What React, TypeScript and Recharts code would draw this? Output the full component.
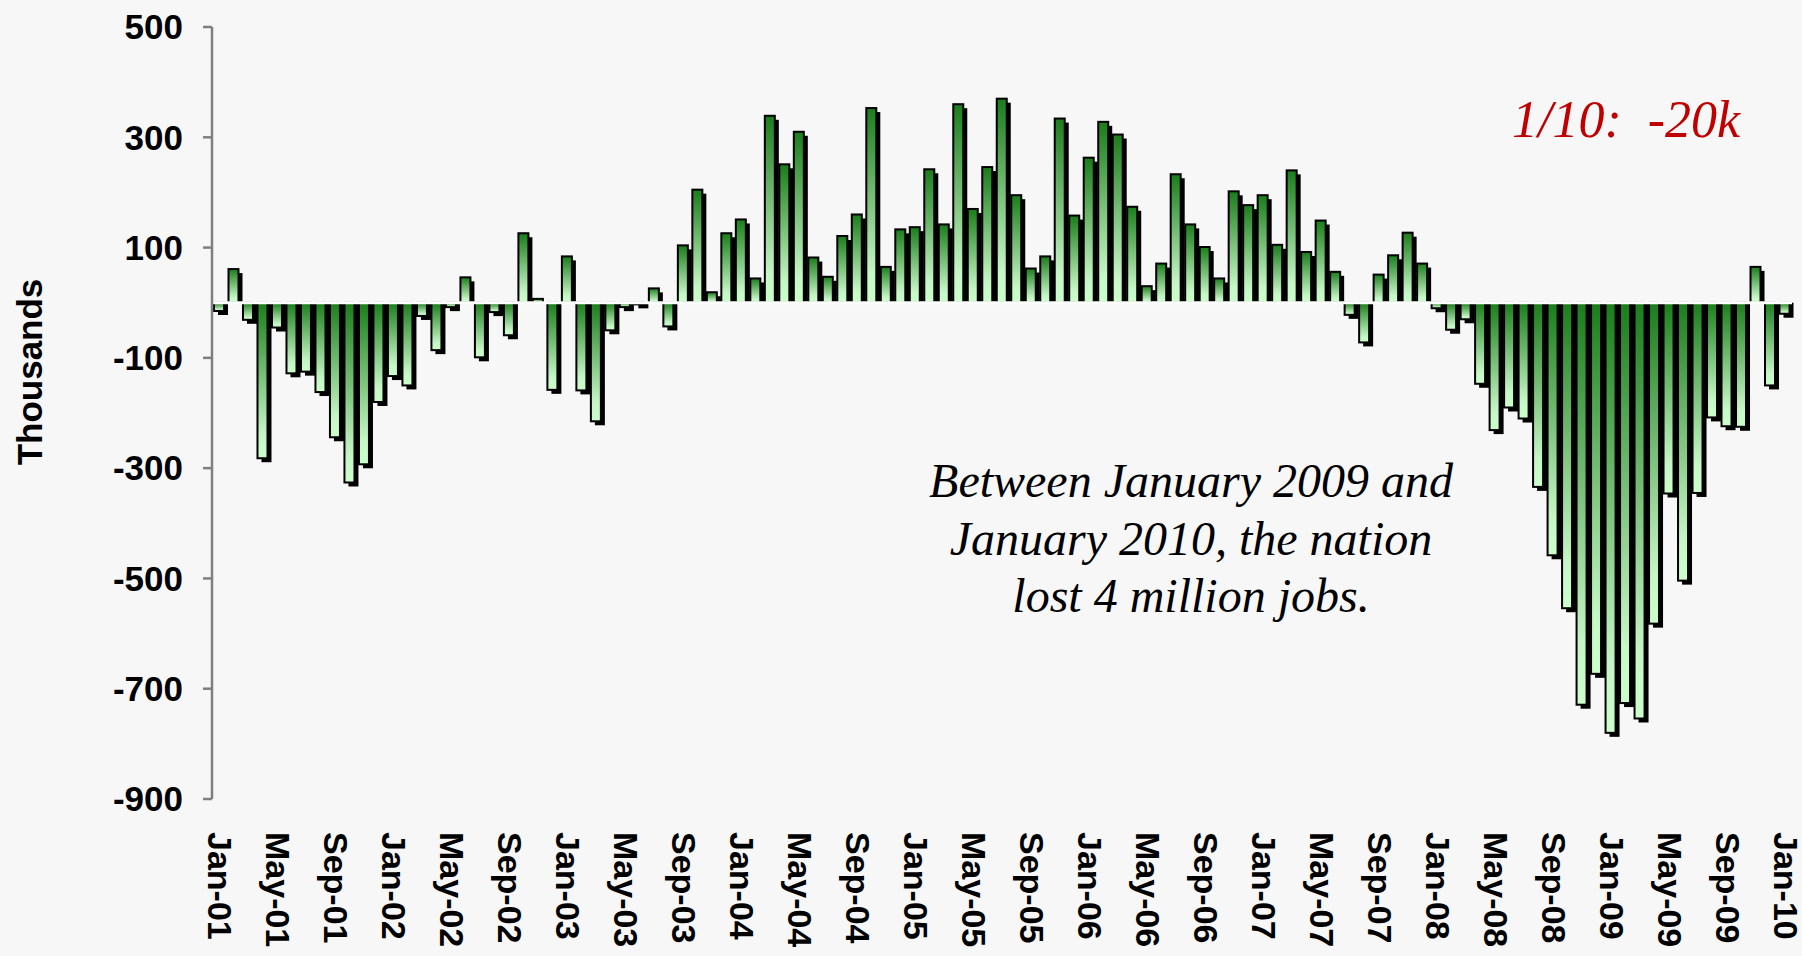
import { Bar, BarChart, ReferenceLine, XAxis, YAxis } from 'recharts'

// monthly change in payroll jobs, thousands
const months = ['Jan', 'Feb', 'Mar', 'Apr', 'May', 'Jun', 'Jul', 'Aug', 'Sep', 'Oct', 'Nov', 'Dec']
const years = ['01', '02', '03', '04', '05', '06', '07', '08', '09', '10']

const jobs2001 = [-15, 61, -31, -282, -45, -128, -125, -162, -244, -326, -293, -180]
const jobs2002 = [-133, -150, -24, -86, -8, 46, -99, -17, -59, 126, 7, -158]
const jobs2003 = [84, -159, -215, -50, -8, -3, 26, -43, 104, 205, 19, 126]
const jobs2004 = [151, 44, 339, 251, 310, 82, 47, 121, 160, 353, 65, 133]
const jobs2005 = [137, 242, 142, 360, 170, 246, 370, 195, 62, 84, 334, 158]
const jobs2006 = [263, 328, 305, 174, 30, 71, 233, 142, 101, 44, 202, 177]
const jobs2007 = [195, 105, 240, 92, 149, 56, -22, -72, 51, 86, 127, 71]
const jobs2008 = [-10, -49, -30, -147, -231, -190, -210, -334, -458, -554, -729, -673]
const jobs2009 = [-780, -726, -754, -582, -346, -504, -345, -208, -224, -225, 65, -150]
const jobs2010 = [-20]

const yTicks = [-900, -700, -500, -300, -100, 100, 300, 500]
const noteLines = ['Between January 2009 and', 'January 2010, the nation', 'lost 4 million jobs.']

const byYear = [jobs2001, jobs2002, jobs2003, jobs2004, jobs2005, jobs2006, jobs2007, jobs2008, jobs2009, jobs2010]
const rows = byYear.flatMap((vals, yi) =>
  vals.map((v, mi) => ({ month: `${months[mi]}-${years[yi]}`, jobs: v })),
)

const W = 1802
const H = 956
const SANS = '"Liberation Sans", Arial, sans-serif'
const SERIF = '"Liberation Serif", "Times New Roman", serif'

function ShadowBar(props: any) {
  const { x, y, width, height, payload } = props
  const top = Math.min(y, y + height)
  const h = Math.abs(height)
  const neg = payload.jobs < 0
  const off = 4
  return (
    <g>
      {neg
        ? <rect x={x + off} y={top} width={width} height={h + off} fill="#000" />
        : <rect x={x + off} y={top + off} width={width} height={Math.max(h - off, 0)} fill="#000" />}
      <rect x={x} y={top} width={width} height={h} fill="url(#barGrad)" stroke="#000" strokeWidth={2} />
    </g>
  )
}

function YTick({ x, y, payload }: any) {
  return (
    <text x={x} y={y} dy="0.35em" textAnchor="end" fontSize={35} fontWeight="bold" fontFamily={SANS} fill="#000">
      {payload.value}
    </text>
  )
}

function XTick({ x, y, payload }: any) {
  return (
    <text
      transform={`translate(${x},${y + 33}) rotate(90)`}
      dy="0.33em"
      textAnchor="start"
      fontSize={34}
      fontWeight="bold"
      fontFamily={SANS}
      fill="#000"
    >
      {payload.value}
    </text>
  )
}

export default function App() {
  return (
    <div style={{ position: 'absolute', left: 0, top: 0, width: W, height: H, background: '#f7f7f7' }}>
      <BarChart width={W} height={H} data={rows} margin={{ top: 27, right: 10, bottom: 0, left: 0 }} barSize={10}>
        <defs>
          <linearGradient id="barGrad" x1="0" y1="0" x2="0" y2="1">
            <stop offset="0%" stopColor="#1a7d1a" />
            <stop offset="85%" stopColor="#c6f6c6" />
            <stop offset="100%" stopColor="#ccffcc" />
          </linearGradient>
        </defs>
        <XAxis
          dataKey="month"
          interval={3}
          height={157}
          axisLine={false}
          tickLine={false}
          tickSize={0}
          tickMargin={0}
          tick={<XTick />}
        />
        <YAxis
          width={212}
          domain={[-900, 500]}
          ticks={yTicks}
          interval={0}
          axisLine={{ stroke: '#7f7f7f', strokeWidth: 2.5 }}
          tickLine={{ stroke: '#7f7f7f', strokeWidth: 2.5 }}
          tickSize={9}
          tickMargin={20}
          tick={<YTick />}
        />
        <Bar dataKey="jobs" shape={<ShadowBar />} isAnimationActive={false} />
        <ReferenceLine y={0} stroke="#ffffff" strokeWidth={3} />
      </BarChart>
      <svg width={W} height={H} style={{ position: 'absolute', left: 0, top: 0, pointerEvents: 'none' }}>
        <text
          transform="translate(42,372) rotate(-90)"
          textAnchor="middle"
          fontSize={35}
          fontWeight="bold"
          fontFamily={SANS}
          fill="#000"
        >
          Thousands
        </text>
        <text
          x={1512}
          y={137}
          fontSize={52}
          fontStyle="italic"
          fontFamily={SERIF}
          fill="#c00000"
          style={{ whiteSpace: 'pre' }}
        >
          {'1/10:  -20k'}
        </text>
        {noteLines.map((line, i) => (
          <text
            key={line}
            x={1191}
            y={497 + i * 57.5}
            textAnchor="middle"
            fontSize={48}
            fontStyle="italic"
            fontFamily={SERIF}
            fill="#000"
          >
            {line}
          </text>
        ))}
      </svg>
    </div>
  )
}
